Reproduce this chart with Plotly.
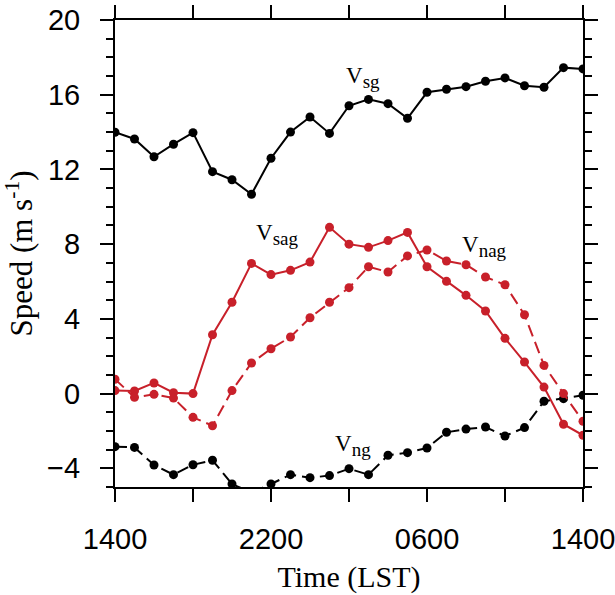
import plotly.graph_objects as go

hours = list(range(25))  # hours after 1400 LST
x_tickvals = [0, 4, 8, 12, 16, 20, 24]
x_ticktext = ["1400", "", "2200", "", "0600", "", "1400"]
y_tickvals = [-4, 0, 4, 8, 12, 16, 20]

v_sg = [13.99, 13.63, 12.68, 13.35, 13.97, 11.88, 11.45, 10.67, 12.6, 14.0, 14.81, 13.93,
        15.41, 15.75, 15.52, 14.74, 16.13, 16.29, 16.43, 16.72, 16.9, 16.48, 16.4, 17.45, 17.38]
v_ng = [-2.84, -2.88, -3.82, -4.34, -3.81, -3.57, -4.84, -5.3, -4.84, -4.34, -4.5, -4.39,
        -4.02, -4.34, -3.3, -3.16, -2.91, -2.07, -1.9, -1.79, -2.27, -1.82, -0.41, -0.27, -0.09]
v_sag = [0.16, 0.14, 0.57, 0.05, 0.0, 3.15, 4.89, 6.97, 6.37, 6.6, 7.04, 8.9,
         8.0, 7.83, 8.19, 8.63, 6.79, 6.01, 5.26, 4.42, 2.96, 1.69, 0.35, -1.64, -2.23]
v_nag = [0.77, -0.2, -0.04, -0.24, -1.27, -1.72, 0.16, 1.64, 2.4, 3.03, 4.06, 4.89,
         5.67, 6.79, 6.51, 7.37, 7.69, 7.1, 6.9, 6.24, 5.83, 4.22, 1.51, 0.0, -1.48]

BLACK = "#000000"
RED = "#c8202a"
SERIF = "Liberation Serif"
SANS = "Liberation Sans"

fig = go.Figure()

def add(y, color, dash):
    fig.add_trace(go.Scatter(
        x=hours, y=y, mode="lines+markers",
        line=dict(color=color, width=2, dash=dash),
        marker=dict(color=color, size=9, line=dict(width=0)),
        showlegend=False,
    ))

add(v_sg, BLACK, "solid")
add(v_ng, BLACK, "12px,6px")
add(v_sag, RED, "solid")
add(v_nag, RED, "12px,6px")

labels = [
    ("sg", 12.7, 16.9),
    ("sag", 8.3, 8.5),
    ("nag", 18.95, 7.85),
    ("ng", 12.18, -2.77),
]
for sub, lx, ly in labels:
    fig.add_annotation(x=lx, y=ly, xref="x", yref="y",
                       text="V<sub><span style='font-size:19px'>" + sub + "</span></sub>",
                       showarrow=False, xanchor="center", yanchor="middle",
                       font=dict(family=SERIF, size=23, color=BLACK))

fig.update_layout(
    width=615, height=595,
    margin=dict(l=115, r=32, t=20, b=108, autoexpand=False),
    paper_bgcolor="white", plot_bgcolor="white",
)
fig.update_xaxes(
    range=[0, 24], tickvals=x_tickvals, ticktext=x_ticktext,
    showgrid=False, zeroline=False, automargin=False,
    showline=True, linecolor=BLACK, linewidth=2, mirror="ticks",
    ticks="outside", ticklen=13, tickwidth=1.5, tickcolor=BLACK,
    tickfont=dict(family=SANS, size=29, color=BLACK), ticklabelstandoff=12,
    ticklabeloverflow="allow",
    title=dict(text="Time (LST)", font=dict(family=SERIF, size=30, color=BLACK), standoff=12),
)
fig.update_yaxes(
    range=[-5, 20], tickvals=y_tickvals,
    showgrid=False, zeroline=False, automargin=False,
    showline=True, linecolor=BLACK, linewidth=2, mirror="ticks",
    ticks="outside", ticklen=13, tickwidth=1.5, tickcolor=BLACK,
    minor=dict(dtick=1, ticks="outside", ticklen=7, tickwidth=1.5, tickcolor=BLACK, showgrid=False),
    tickfont=dict(family=SANS, size=29, color=BLACK), ticklabelstandoff=14,
    ticklabeloverflow="allow",
    title=dict(text="Speed (m s<sup>-1</sup>)", font=dict(family=SERIF, size=31, color=BLACK), standoff=8),
)

fig.write_html("out.html")
